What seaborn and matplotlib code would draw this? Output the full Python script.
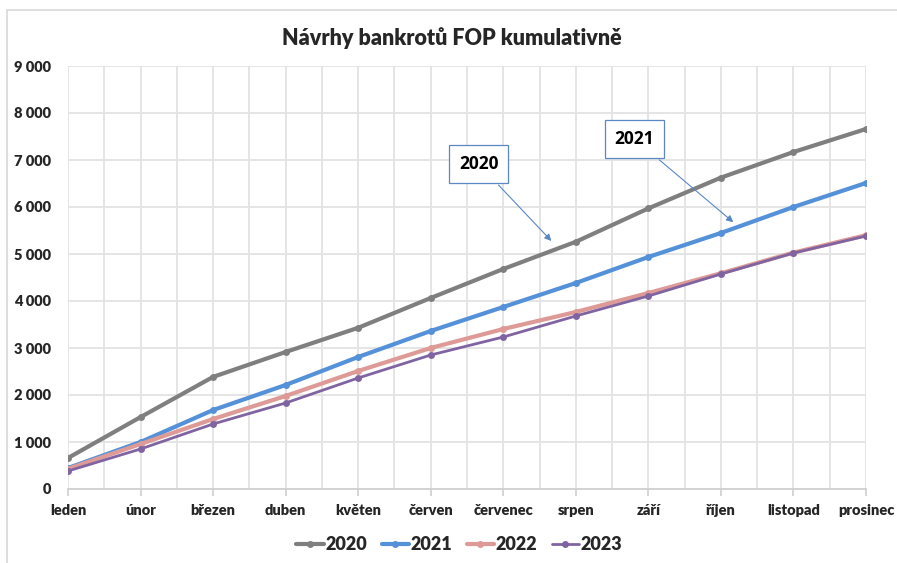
import numpy as np
import pandas as pd
import seaborn as sns
import matplotlib.pyplot as plt
from matplotlib.patches import Rectangle
from matplotlib.ticker import FuncFormatter

months = ["leden", "únor", "březen", "duben", "květen", "červen",
          "červenec", "srpen", "září", "říjen", "listopad", "prosinec"]
y2020 = [660, 1530, 2385, 2915, 3430, 4064, 4681, 5260, 5970, 6625, 7170, 7660]
y2021 = [447, 1000, 1680, 2213, 2809, 3362, 3872, 4383, 4936, 5447, 6000, 6511]
y2022 = [430, 957, 1489, 1979, 2511, 3000, 3404, 3766, 4170, 4590, 5030, 5400]
y2023 = [383, 851, 1383, 1830, 2362, 2851, 3234, 3681, 4106, 4574, 5021, 5383]

series = {"2020": y2020, "2021": y2021, "2022": y2022, "2023": y2023}
colors = {"2020": "#7f7f7f", "2021": "#5591d8", "2022": "#dd9a96", "2023": "#8064a2"}
widths = {"2020": 3.0, "2021": 3.0, "2022": 3.0, "2023": 2.0}

sns.set_theme(style="white")
plt.rcParams['font.family'] = ['Lato', 'DejaVu Sans']
W = "heavy"

fig = plt.figure(figsize=(8.97, 5.63), dpi=100)
ax = fig.add_axes([68/897, 1 - 489/563, (866 - 68)/897, (489 - 66)/563])

# chart frame
fig.patches.append(Rectangle((7/897, -0.1), 1.2, 1 - 10/563 + 0.1, transform=fig.transFigure,
                             fill=False, edgecolor="#d9d9d9", linewidth=1.2))

for year, vals in series.items():
    df = pd.DataFrame({"x": range(len(months)), "y": vals})
    sns.lineplot(data=df, x="x", y="y", ax=ax, color=colors[year], linewidth=widths[year],
                 marker="o", markersize=5, markeredgewidth=0, label=year)

ax.set_xlim(0, 11)
ax.set_ylim(0, 9000)
ax.set_yticks(np.arange(0, 9001, 1000))
ax.yaxis.set_major_formatter(FuncFormatter(lambda v, p: f"{int(v):,}".replace(",", " ")))
ax.set_xticks(range(len(months)))
ax.set_xticklabels(months)
ax.set_xticks(np.arange(0.5, 11, 1), minor=True)
ax.grid(True, which="both", color="#e3e3e3", linewidth=1.3)
ax.set_axisbelow(True)
ax.set_xlabel("")
ax.set_ylabel("")
for s in ["top", "right", "left"]:
    ax.spines[s].set_visible(False)
ax.spines["bottom"].set_color("#d0d0d0")
ax.spines["bottom"].set_linewidth(1.3)
ax.tick_params(axis="x", which="major", bottom=True, length=5, width=1.2, color="#d0d0d0",
               pad=6, labelsize=10.5)
ax.tick_params(axis="x", which="minor", bottom=False)
ax.tick_params(axis="y", left=False, length=0, pad=12, labelsize=10.5)
for lbl in ax.get_xticklabels() + ax.get_yticklabels():
    lbl.set_fontweight(W)

ax.set_title("Návrhy bankrotů FOP kumulativně", fontsize=15.5, fontweight=W, pad=15, x=0.481)

box = dict(boxstyle="square,pad=0.55", fc="white", ec="#5b87c5", lw=0.9)
arrow = dict(arrowstyle="-|>", color="#5b87c5", lw=0.8, mutation_scale=10)
for txt, tip, pos in [("2020", (6.69, 5234), (5.66, 6915)), ("2021", (9.20, 5638), (7.81, 7447))]:
    ax.annotate(txt, xy=tip, xytext=pos, ha="center", va="center",
                family=["Open Sans", "DejaVu Sans"], fontsize=12.5, fontweight="bold",
                color="black", bbox=box, arrowprops=arrow)

ax.get_legend().remove()
handles, labels = ax.get_legend_handles_labels()
leg = fig.legend(handles, labels, loc="center", bbox_to_anchor=(0.512, 1 - 545/563), ncol=4,
                 frameon=False, handlelength=1.5, handletextpad=0.1, columnspacing=0.8,
                 prop={"size": 13, "weight": W})

plt.savefig("out.png", dpi=100)
